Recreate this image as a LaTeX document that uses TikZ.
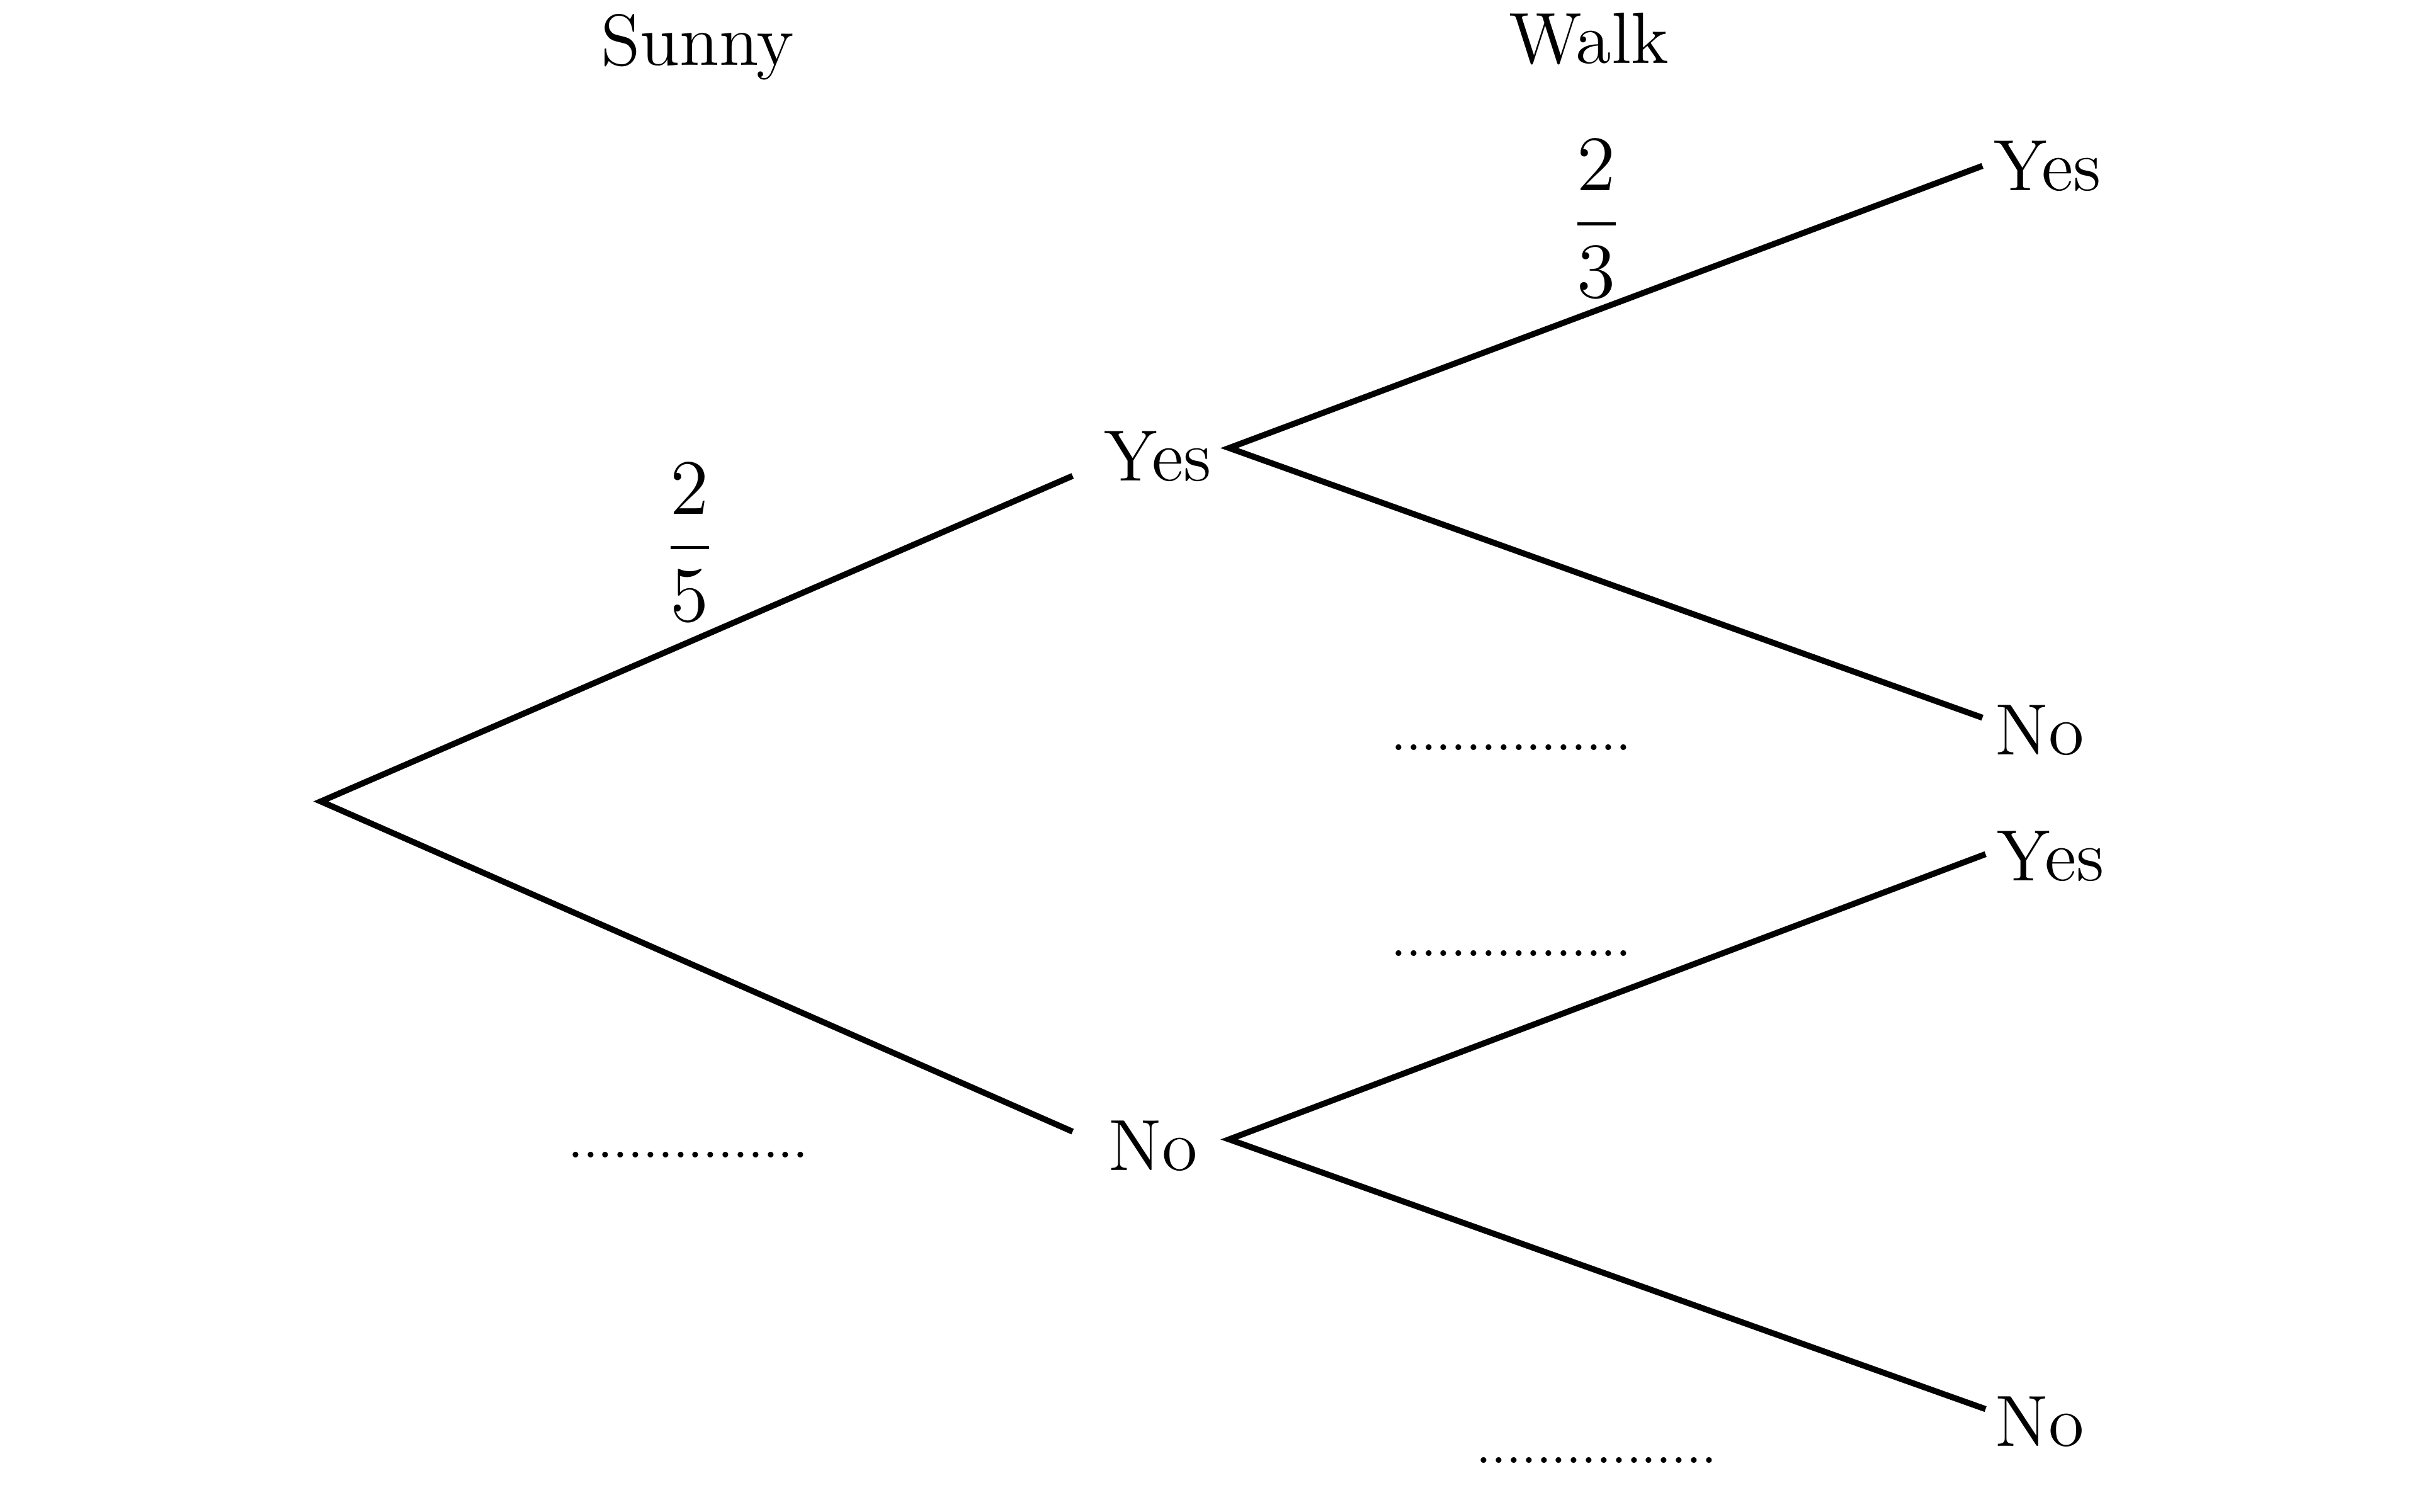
\documentclass[tikz,border=0pt]{standalone}
\usepackage{amsmath}
\tikzset{
    lbl/.style={font=\fontsize{13.3}{16}\selectfont,inner sep=0pt,anchor=base},
    frc/.style={font=\fontsize{13.3}{16}\selectfont,inner sep=0pt},
    blank/.style={font=\fontsize{9.9}{12}\selectfont,inner sep=0pt},
    branch/.style={line width=1.1pt,line join=miter}
}
\begin{document}
\begin{tikzpicture}[x=0.01cm,y=-0.01cm]
    \useasboundingbox (0,0) rectangle (1560,975);
    % headings
    \node [lbl] (sunny) at (450,42) {Sunny};
    \node [lbl] (walk) at (1025,41) {Walk};
    % first stage
    \coordinate (root) at (207,517);
    \coordinate (y-in) at (692,307);
    \coordinate (n-in) at (692,730);
    \node [lbl] (sy) at (747,310) {Yes};
    \node [lbl] (sn) at (744,755) {No};
    \draw [branch] (y-in) -- (root) -- (n-in);
    % second stage
    \coordinate (y-out) at (793,289);
    \coordinate (n-out) at (793,735);
    \coordinate (yy-in) at (1279,107);
    \coordinate (yn-in) at (1279,463);
    \coordinate (ny-in) at (1281,551);
    \coordinate (nn-in) at (1281,909);
    \node [lbl] (wyy) at (1321,123) {Yes};
    \node [lbl] (wyn) at (1316,487) {No};
    \node [lbl] (wny) at (1323,568) {Yes};
    \node [lbl] (wnn) at (1316,933) {No};
    \draw [branch] (yy-in) -- (y-out) -- (yn-in);
    \draw [branch] (ny-in) -- (n-out) -- (nn-in);
    % probabilities
    \node [frc] (p-sy) at (445,350) {$\dfrac{2}{5}$};
    \node [frc] (p-wyy) at (1030,141) {$\dfrac{2}{3}$};
    \foreach \x/\y [count=\i] in {444/745,975/482,975/615,1030/942} {
        \node [blank] (gap\i) at (\x,\y) {................};
    }
\end{tikzpicture}
\end{document}
